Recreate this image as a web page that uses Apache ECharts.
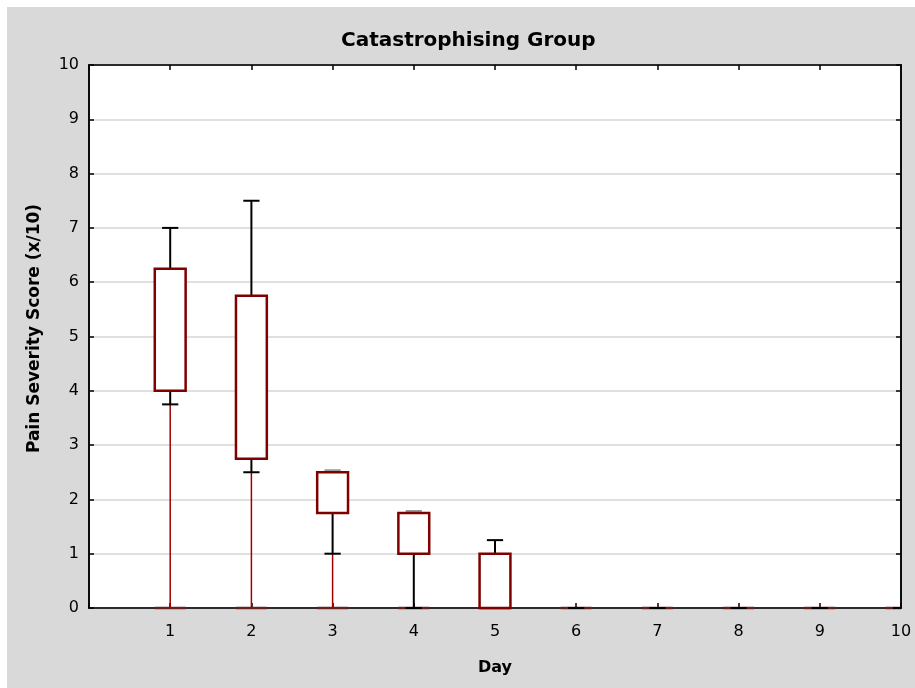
<!DOCTYPE html>
<html>
<head>
<meta charset="utf-8">
<script src="https://cdn.jsdelivr.net/npm/echarts@6/dist/echarts.min.js"></script>
<style>
  html, body {margin: 0; padding: 0; background: #fff;}
  #chart {width: 915px; height: 688px;}
</style>
</head>
<body>
<div id="chart"></div>
<script>
// box plot values per day
let days = [1, 2, 3, 4, 5, 6, 7, 8, 9, 10];
let median = [0, 0, 0, 0, 0, 0, 0, 0, 0, 0];
let lowCap = [3.75, 2.5, 1, 0, 0, 0, 0, 0, 0, 0];
let q1 = [4, 2.75, 1.75, 1, 0, 0, 0, 0, 0, 0];
let q3 = [6.25, 5.75, 2.5, 1.75, 1, 0, 0, 0, 0, 0];
let highCap = [7, 7.5, 2.5, 1.75, 1.25, 0, 0, 0, 0, 0];
let xTicks = [1, 2, 3, 4, 5, 6, 7, 8, 9, 10];

let font = 'DejaVu Sans, Arial, sans-serif';

let rows = days.map(function (d, i) {
    return [d, median[i], lowCap[i], q1[i], q3[i], highCap[i]];
});

let renderBox = function (params, api) {
    let x = api.value(0);
    let unit = api.size([1, 0])[0];
    let boxW = unit * 0.38;
    let capW = unit * 0.2;
    let right = params.coordSys.x + params.coordSys.width;
    let pMed = api.coord([x, api.value(1)]);
    let pLow = api.coord([x, api.value(2)]);
    let pQ1 = api.coord([x, api.value(3)]);
    let pQ3 = api.coord([x, api.value(4)]);
    let pHigh = api.coord([x, api.value(5)]);
    let cx = pMed[0];
    let red = '#a00000';
    let dark = '#800000';
    let black = '#000';
    let kids = [];
    // median, drawn first so the ticks show over it
    kids.push({type: 'line', shape: {x1: cx - boxW / 2, y1: pMed[1], x2: Math.min(cx + boxW / 2, right), y2: pMed[1]},
        style: {stroke: '#6a1f1f', lineWidth: 2.5}});
    // thin red line from median to lower whisker
    kids.push({type: 'line', shape: {x1: cx, y1: pMed[1], x2: cx, y2: pLow[1]},
        style: {stroke: red, lineWidth: 1.5}});
    // lower whisker
    kids.push({type: 'line', shape: {x1: cx, y1: pLow[1], x2: cx, y2: pQ1[1]},
        style: {stroke: black, lineWidth: 2}});
    kids.push({type: 'line', shape: {x1: cx - capW / 2, y1: pLow[1], x2: Math.min(cx + capW / 2, right), y2: pLow[1]},
        style: {stroke: black, lineWidth: 2}});
    // upper whisker (cap drawn grey where it sits on the box edge)
    let onEdge = (pQ3[1] - pHigh[1] < 1);
    let capY = pHigh[1] - (onEdge ? 2 : 0);
    kids.push({type: 'line', shape: {x1: cx, y1: pQ3[1], x2: cx, y2: pHigh[1]},
        style: {stroke: black, lineWidth: 2}});
    if (!(onEdge && pQ1[1] - pQ3[1] < 0.5)) {
        kids.push({type: 'line', shape: {x1: cx - capW / 2, y1: capY, x2: cx + capW / 2, y2: capY},
            style: {stroke: onEdge ? '#999' : black, lineWidth: 2}});
    }
    // box
    if (pQ1[1] - pQ3[1] > 0.5) {
        kids.push({type: 'rect',
            shape: {x: cx - boxW / 2, y: pQ3[1], width: boxW, height: pQ1[1] - pQ3[1]},
            style: {fill: '#fff', stroke: dark, lineWidth: 2.5}});
    }
    return {type: 'group', children: kids};
};

let chart = echarts.init(document.getElementById('chart'));
chart.setOption({
    backgroundColor: '#fff',
    animation: false,
    graphic: [{
        type: 'rect', z: -10, silent: true,
        shape: {x: 7, y: 7, width: 915, height: 688},
        style: {fill: '#d9d9d9'}
    }],
    title: {
        text: 'Catastrophising Group',
        left: 336, top: 26,
        textStyle: {fontFamily: font, fontWeight: 'bold', fontSize: 20, color: '#000'}
    },
    grid: {
        left: 89, right: 14, top: 65, bottom: 80,
        show: true, backgroundColor: '#fff', borderColor: '#000', borderWidth: 1.5
    },
    xAxis: [{
        type: 'value', min: 0, max: 10, interval: 1,
        name: 'Day', nameLocation: 'middle', nameGap: 52,
        nameTextStyle: {fontFamily: font, fontWeight: 'bold', fontSize: 16, color: '#000'},
        axisLine: {onZero: false, lineStyle: {color: '#000', width: 1.5}},
        axisTick: {inside: true, length: 5, lineStyle: {color: '#000', width: 1.5}},
        axisLabel: {
            margin: 16, color: '#000', fontSize: 16, fontFamily: font,
            formatter: function (v) { return xTicks.indexOf(v) >= 0 ? String(v) : ''; }
        },
        splitLine: {show: false}
    }, {
        type: 'value', min: 0, max: 10, interval: 1, position: 'top',
        axisLine: {show: true, onZero: false, lineStyle: {color: '#000', width: 1.5}},
        axisTick: {show: true, inside: true, length: 5, lineStyle: {color: '#000', width: 1.5}},
        axisLabel: {show: false},
        splitLine: {show: false}
    }],
    yAxis: [{
        type: 'value', min: 0, max: 10, interval: 1,
        name: 'Pain Severity Score (x/10)', nameLocation: 'middle', nameGap: 46,
        nameTextStyle: {fontFamily: font, fontWeight: 'bold', fontSize: 17, color: '#000', padding: [0, 0, 0, 16]},
        axisLine: {show: true, onZero: false, lineStyle: {color: '#000', width: 1.5}},
        axisTick: {show: true, inside: true, length: 5, lineStyle: {color: '#000', width: 1.5}},
        axisLabel: {margin: 10, color: '#000', fontSize: 16, fontFamily: font},
        splitLine: {show: true, lineStyle: {color: '#d6d6d6', width: 1.5}}
    }, {
        type: 'value', min: 0, max: 10, interval: 1, position: 'right',
        axisLine: {show: true, onZero: false, lineStyle: {color: '#000', width: 1.5}},
        axisTick: {show: true, inside: true, length: 5, lineStyle: {color: '#000', width: 1.5}},
        axisLabel: {show: false},
        splitLine: {show: false}
    }],
    series: [{
        type: 'custom',
        renderItem: renderBox,
        clip: false,
        encode: {x: 0, y: [1, 2, 3, 4, 5]},
        data: rows,
        z: 5
    }]
});
</script>
</body>
</html>
